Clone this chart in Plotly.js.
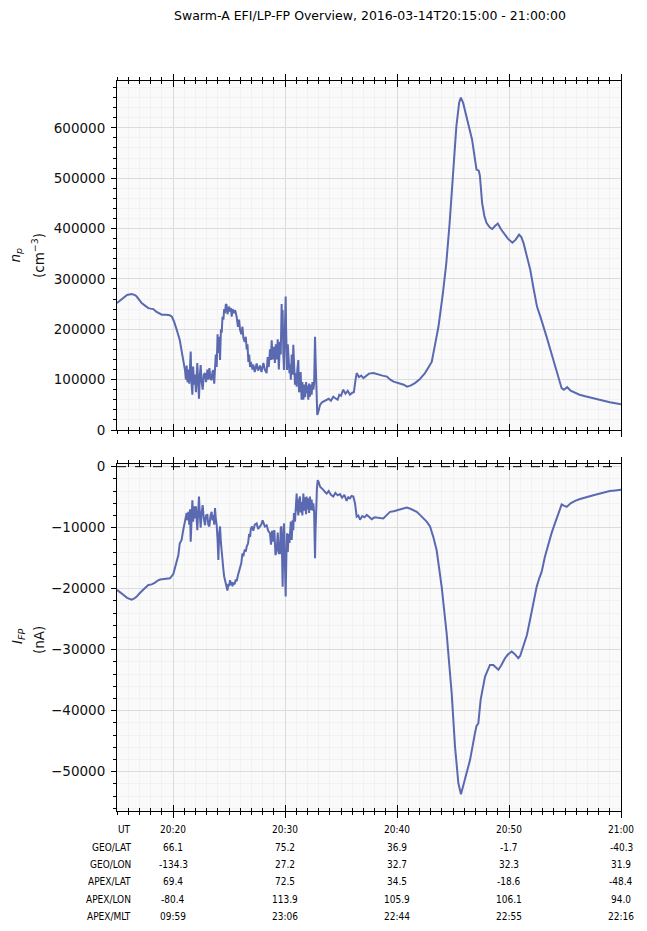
<!DOCTYPE html>
<html>
<head>
<meta charset="utf-8">
<script src="https://cdn.plot.ly/plotly-3.0.1.min.js"></script>
<style>html,body{margin:0;padding:0;background:#fff}#chart{width:647px;height:931px}</style>
</head>
<body>
<div id="chart"></div>
<script>
// ---- data: minutes after 2016-03-14 20:15:00 ----
const tNp = [0,0.3,0.56,0.9,1.3,1.6,1.76,2.0,2.2,2.5,2.8,3.0,3.25,3.5,3.7,4.0,4.4,4.7,4.9,5.1,5.33,5.6,5.8,6.07,6.15,6.22,6.3,6.38,6.45,6.52,6.58,6.65,6.73,6.8,6.88,6.95,7.05,7.17,7.25,7.32,7.4,7.47,7.56,7.65,7.75,7.86,7.95,8.07,8.15,8.25,8.35,8.45,8.52,8.6,8.68,8.75,8.82,8.9,8.98,9.05,9.12,9.2,9.28,9.35,9.42,9.5,9.57,9.64,9.72,9.79,9.86,9.94,10.02,10.09,10.17,10.24,10.32,10.45,10.55,10.68,10.8,10.9,10.98,11.1,11.2,11.28,11.4,11.5,11.58,11.65,11.73,11.8,11.88,11.95,12.02,12.1,12.17,12.3,12.47,12.6,12.77,12.9,13.07,13.2,13.36,13.45,13.55,13.66,13.74,13.81,13.9,14.02,14.1,14.18,14.26,14.35,14.45,14.55,14.62,14.7,14.74,14.79,14.85,14.91,14.97,15.02,15.06,15.1,15.14,15.18,15.25,15.32,15.4,15.45,15.52,15.6,15.68,15.74,15.8,15.89,15.95,16.04,16.1,16.19,16.25,16.34,16.4,16.48,16.55,16.64,16.72,16.8,16.88,16.93,17.0,17.08,17.15,17.23,17.3,17.38,17.45,17.53,17.6,17.65,17.68,17.72,17.76,17.82,17.88,17.95,18.05,18.13,18.3,18.5,18.72,18.9,19.1,19.31,19.5,19.7,19.85,20.0,20.2,20.4,20.6,20.8,21.0,21.15,21.3,21.4,21.6,21.8,22.0,22.2,22.5,22.9,23.3,23.7,24.1,24.4,24.7,25.0,25.3,25.6,25.9,26.2,26.6,27.0,27.5,28.1,28.4,28.7,29.1,29.4,29.7,30.0,30.3,30.55,30.7,30.9,31.2,31.7,32.1,32.3,32.4,32.6,32.8,33.0,33.3,33.5,33.75,34.0,34.3,34.6,34.9,35.3,35.6,35.9,36.1,36.3,36.6,36.9,37.2,37.5,37.8,38.1,38.4,38.7,39.0,39.3,39.5,39.7,39.9,40.2,40.5,40.9,41.3,41.8,42.3,42.7,43.1,43.5,44.0,44.5,45.0];
const npVals = [252000,257000,262000,268000,270000,268000,265000,258000,252000,247000,242000,241000,240000,235000,232000,229000,229000,228000,225000,215000,199000,179000,153000,119000,100000,128000,95000,120000,92000,140000,156000,95000,70000,126000,90000,110000,75000,133000,85000,62000,110000,129000,95000,80000,110000,113000,95000,120000,100000,123000,102000,99000,115000,119000,92000,120000,150000,125000,190000,153000,185000,139000,200000,193000,225000,219000,240000,232000,250000,248000,230000,238000,245000,235000,242000,225000,240000,232000,238000,225000,205000,219000,200000,190000,205000,183000,175000,185000,160000,170000,135000,150000,125000,135000,128000,120000,130000,115000,132000,118000,128000,115000,133000,120000,113000,145000,125000,160000,139000,178000,140000,165000,133000,170000,140000,180000,120000,175000,150000,250000,200000,238000,150000,119000,180000,240000,265000,200000,160000,119000,170000,140000,113000,130000,100000,150000,110000,169000,120000,90000,113000,86000,120000,139000,75000,80000,115000,60000,95000,60000,90000,65000,95000,73000,88000,60000,92000,66000,90000,70000,95000,80000,92000,150000,185000,150000,100000,60000,30000,34000,45000,50000,55000,57000,60000,62000,58000,66000,63000,60000,70000,68000,80000,72000,78000,70000,74000,75000,100000,113000,105000,108000,103000,106000,112000,113000,110000,108000,106000,100000,96000,94000,93000,90000,86000,88000,93000,100000,113000,135000,170000,205000,272000,331000,411000,510000,603000,650000,660000,650000,623000,577000,517000,515000,505000,451000,425000,411000,402000,399000,405000,410000,398000,388000,380000,372000,378000,388000,383000,371000,345000,318000,280000,245000,225000,205000,182000,159000,135000,113000,95000,83000,80000,85000,78000,74000,70000,67000,64000,62000,60000,57000,55000,53000,51000];

const tIfp = [0,0.3,0.56,0.9,1.3,1.55,1.76,2.0,2.2,2.5,2.8,3.1,3.4,3.6,3.84,4.2,4.5,4.73,5.03,5.2,5.33,5.48,5.6,5.77,5.9,6.07,6.15,6.22,6.3,6.38,6.45,6.52,6.58,6.65,6.73,6.8,6.88,6.95,7.05,7.17,7.25,7.32,7.4,7.47,7.56,7.65,7.75,7.86,7.95,8.07,8.15,8.25,8.35,8.45,8.52,8.6,8.68,8.75,8.82,8.9,8.98,9.05,9.12,9.2,9.28,9.35,9.42,9.5,9.57,9.64,9.72,9.79,9.86,9.94,10.02,10.09,10.17,10.24,10.32,10.39,10.5,10.6,10.68,10.8,10.9,10.98,11.1,11.2,11.28,11.4,11.5,11.58,11.7,11.8,11.88,11.95,12.05,12.17,12.3,12.47,12.6,12.77,12.9,13.0,13.07,13.2,13.36,13.5,13.66,13.75,13.85,13.96,14.05,14.15,14.26,14.35,14.45,14.55,14.62,14.68,14.74,14.79,14.85,14.91,14.97,15.02,15.06,15.12,15.18,15.25,15.32,15.4,15.45,15.52,15.6,15.68,15.74,15.8,15.89,15.95,16.04,16.1,16.19,16.25,16.34,16.4,16.48,16.55,16.64,16.72,16.8,16.88,16.93,17.0,17.08,17.15,17.23,17.3,17.38,17.45,17.53,17.6,17.65,17.68,17.72,17.78,17.85,17.92,18.0,18.13,18.3,18.42,18.6,18.72,18.9,19.1,19.31,19.5,19.7,19.91,20.1,20.3,20.5,20.65,20.8,20.95,21.1,21.25,21.4,21.55,21.7,21.9,22.1,22.3,22.5,22.74,23.0,23.4,23.78,24.1,24.38,24.7,25.1,25.5,25.87,26.2,26.46,26.76,27.05,27.35,27.65,27.95,28.24,28.54,28.99,29.43,29.88,30.18,30.48,30.71,31.07,31.52,31.96,32.1,32.26,32.4,32.47,32.86,33.3,33.6,34.05,34.3,34.64,34.9,35.24,35.5,35.83,36.0,36.28,36.6,36.88,37.2,37.47,37.7,37.92,38.2,38.53,38.8,39.1,39.4,39.7,39.9,40.15,40.5,40.9,41.34,41.8,42.3,42.7,43.1,43.6,44.0,44.5,45.0];
const ifpVals = [-20200,-20700,-21000,-21500,-21800,-21600,-21300,-20800,-20500,-19900,-19400,-19300,-19000,-18700,-18500,-18400,-18400,-18300,-17600,-16500,-15300,-14500,-12600,-12000,-10500,-9000,-8000,-7600,-8800,-7400,-9500,-7000,-12300,-8000,-5500,-9000,-6500,-8500,-6500,-10400,-7000,-4900,-8000,-10000,-7500,-6300,-8500,-9600,-8000,-7900,-9500,-9800,-8000,-7400,-8800,-7900,-9500,-6800,-8500,-9600,-12000,-15300,-11000,-9800,-12500,-14200,-16000,-16900,-18000,-18600,-19500,-19900,-20300,-19200,-19600,-18600,-19400,-18900,-19600,-19000,-19300,-18500,-18800,-17800,-17200,-16400,-15800,-14200,-14700,-13600,-13900,-13100,-12600,-11000,-11500,-10200,-9800,-10500,-9500,-9300,-10200,-9800,-9400,-8800,-9200,-9800,-9600,-10500,-10900,-12800,-10500,-12300,-10400,-14500,-13700,-10800,-14200,-14200,-10000,-9800,-15000,-19700,-12000,-9300,-14000,-18000,-21300,-15000,-10900,-14000,-11000,-12500,-11500,-9000,-12000,-8800,-10400,-7600,-9000,-6000,-4400,-6600,-8000,-5500,-4900,-7500,-5800,-8000,-4400,-7200,-5000,-7800,-4900,-7000,-5200,-7600,-4900,-7100,-5400,-7200,-6000,-7500,-12000,-15000,-11000,-6500,-3500,-2200,-2500,-3300,-3700,-3800,-4200,-4400,-4000,-4600,-4900,-4300,-4700,-4500,-5100,-4600,-5600,-5000,-5200,-4800,-4900,-6000,-8200,-8000,-8700,-8100,-8300,-7900,-8200,-8600,-8300,-8400,-8500,-7900,-7400,-7300,-7100,-7000,-6700,-6900,-7100,-7400,-7900,-8400,-9000,-9800,-11500,-13700,-19700,-27300,-37100,-45900,-51900,-53700,-51300,-48100,-43700,-42500,-42100,-40000,-38200,-34400,-32500,-32500,-33300,-32600,-31400,-30800,-30300,-30700,-31400,-31000,-29500,-27600,-25100,-22300,-19700,-18300,-17200,-14800,-12600,-10900,-9300,-7700,-6200,-6400,-6600,-6000,-5600,-5300,-5000,-4800,-4600,-4400,-4100,-4000,-3900,-3800];

// ---- footer table (tick labels) ----
const tickTimes = ['20:20','20:30','20:40','20:50','21:00'];
const rowLabels = ['UT','GEO/LAT','GEO/LON','APEX/LAT','APEX/LON','APEX/MLT'];
const geoLat  = ['66.1','75.2','36.9','-1.7','-40.3'];
const geoLon  = ['-134.3','27.2','32.7','32.3','31.9'];
const apexLat = ['69.4','72.5','34.5','-18.6','-48.4'];
const apexLon = ['-80.4','113.9','105.9','106.1','94.0'];
const apexMlt = ['09:59','23:06','22:44','22:55','22:16'];

// ---- build ----
const DAY = '2016-03-14';
const base = Date.UTC(2016,2,14,20,15,0);
function toDate(m){ return new Date(base + m*60000).toISOString().replace('T',' ').replace('Z',''); }
const xNp = tNp.map(toDate), xIfp = tIfp.map(toDate);
const xRange = [DAY+' 20:15:00', DAY+' 21:00:00'];

const W = 647, H = 931;
const xDom = [117/W, 621/W];
const yDomTop = [(H-430)/H, (H-81)/H];
const yDomBot = [(H-811)/H, (H-464)/H];

const lineColor = '#5a69b0';
const tickFont = {family:'DejaVu Sans, sans-serif', size:13.5, color:'#111'};
const smallFont = {family:'DejaVu Sans Condensed, Liberation Sans Narrow, DejaVu Sans, sans-serif', size:10, color:'#000'};
const minorGrid = '#f2f2f2';

function xMain(anchor){
  return {domain:xDom, anchor:anchor, type:'date', range:xRange, showticklabels:false,
    tick0:DAY+' 20:00:00', dtick:600000, ticks:'outside', ticklen:6, tickwidth:1, tickcolor:'#000',
    showline:true, linecolor:'#000', linewidth:1, mirror:'ticks',
    showgrid:true, gridcolor:'#dcdcdc', gridwidth:1, zeroline:false,
    minor:{dtick:60000, ticks:'outside', ticklen:3, tickwidth:1, tickcolor:'#000', showgrid:true, gridcolor:minorGrid, gridwidth:1}};
}
function xOver(over, anchor){
  return {overlaying:over, anchor:anchor, type:'date', range:xRange, showticklabels:false,
    tick0:DAY+' 20:00:00', dtick:600000, ticks:'inside', ticklen:6, tickwidth:1, tickcolor:'#000',
    showline:false, mirror:'ticks', showgrid:false, zeroline:false,
    minor:{dtick:60000, ticks:'inside', ticklen:3, tickwidth:1, tickcolor:'#000', showgrid:false}};
}
function yAx(dom, anchor, range, dtick, mdtick){
  return {domain:dom, anchor:anchor, range:range, dtick:dtick, tickformat:'d',
    ticks:'outside', ticklen:5, tickwidth:1, tickcolor:'#000', tickfont:tickFont, ticklabelstandoff:3,
    showline:true, linecolor:'#000', linewidth:1, mirror:true,
    showgrid:true, gridcolor:'#dcdcdc', gridwidth:1, zeroline:false,
    minor:{dtick:mdtick, ticks:'outside', ticklen:3, tickwidth:1, tickcolor:'#000', showgrid:true, gridcolor:minorGrid, gridwidth:1}};
}

const traces = [
  {x:xNp, y:npVals, xaxis:'x', yaxis:'y', type:'scatter', mode:'lines', line:{color:lineColor, width:2}, showlegend:false, hoverinfo:'skip'},
  {x:xIfp, y:ifpVals, xaxis:'x2', yaxis:'y2', type:'scatter', mode:'lines', line:{color:lineColor, width:2}, showlegend:false, hoverinfo:'skip'},
  {x:[], y:[], xaxis:'x3', yaxis:'y', type:'scatter', mode:'lines', showlegend:false},
  {x:[], y:[], xaxis:'x4', yaxis:'y2', type:'scatter', mode:'lines', showlegend:false}
];

// footer annotations
const rowY = [829, 847, 864, 881, 899, 916];
const rows = [tickTimes, geoLat, geoLon, apexLat, apexLon, apexMlt];
const annotations = [];
rowLabels.forEach((lab,i)=>{
  annotations.push({xref:'paper', yref:'paper', x:133/W, y:1-rowY[i]/H, xanchor:'right', yanchor:'middle',
    text:lab, showarrow:false, font:smallFont});
  rows[i].forEach((v,j)=>{
    annotations.push({xref:'x2', yref:'paper', x:DAY+' '+tickTimes[j]+':00', y:1-rowY[i]/H, xanchor:'center', yanchor:'middle',
      text:v, showarrow:false, font:smallFont});
  });
});
// y-axis labels
const labFont = {family:'DejaVu Sans, sans-serif', size:13.5, color:'#111'};
annotations.push({xref:'paper', yref:'paper', x:15.5/W, y:1-255/H, text:'<i>n</i><sub><i>p</i></sub>', textangle:-90, showarrow:false, font:labFont, xanchor:'center', yanchor:'middle'});
annotations.push({xref:'paper', yref:'paper', x:38/W, y:1-256/H, text:'(cm<sup>−3</sup>)', textangle:-90, showarrow:false, font:labFont, xanchor:'center', yanchor:'middle'});
annotations.push({xref:'paper', yref:'paper', x:18/W, y:1-637/H, text:'<i>I</i><sub><i>FP</i></sub>', textangle:-90, showarrow:false, font:labFont, xanchor:'center', yanchor:'middle'});
annotations.push({xref:'paper', yref:'paper', x:39/W, y:1-640/H, text:'(nA)', textangle:-90, showarrow:false, font:labFont, xanchor:'center', yanchor:'middle'});

const layout = {
  width:W, height:H, margin:{l:0,r:0,t:0,b:0,pad:0},
  paper_bgcolor:'#ffffff', plot_bgcolor:'#fafafa',
  title:{text:'Swarm-A EFI/LP-FP Overview, 2016-03-14T20:15:00 - 21:00:00', x:370/W, xanchor:'center', xref:'paper',
    y:1-16/H, yanchor:'middle', yref:'paper', font:{family:'DejaVu Sans, sans-serif', size:12.5, color:'#000'}},
  xaxis:xMain('y'), xaxis2:xMain('y2'), xaxis3:xOver('x','y'), xaxis4:xOver('x2','y2'),
  yaxis:yAx(yDomTop, 'x', [0, 693000], 100000, 20000),
  yaxis2:yAx(yDomBot, 'x2', [-56450, 440], 10000, 2000),
  shapes:[{type:'line', xref:'x2 domain', yref:'y2', x0:0, x1:1, y0:0, y1:0, line:{color:'#000', width:1, dash:'dash'}}],
  annotations:annotations,
  showlegend:false
};
Plotly.newPlot('chart', traces, layout, {staticPlot:true, displayModeBar:false});
</script>
</body>
</html>
